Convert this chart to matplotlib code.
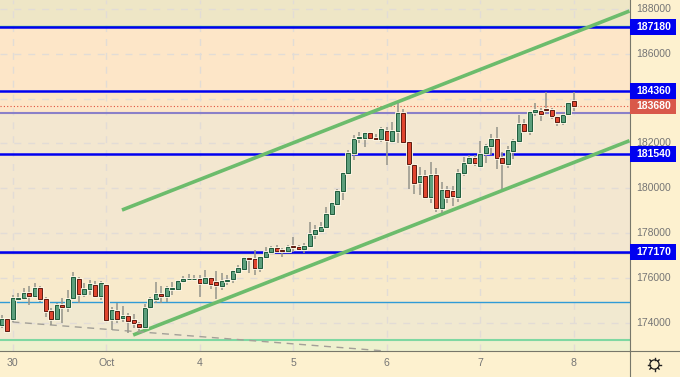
"""
Candlestick chart with support / resistance levels and a rising channel
"""
import matplotlib
matplotlib.use("Agg")
import matplotlib.pyplot as plt
import matplotlib.patheffects as pe
from matplotlib.lines import Line2D
from matplotlib.patches import Circle, Rectangle

opens = [173894, 174147, 174147, 175054, 175084, 175337, 175203, 175545, 175069, 174534,
         174147, 174772, 174682, 175099, 175947, 175278, 175486, 175694, 175188, 175665,
         174147, 174534, 174191, 174310, 174102, 173938, 173819, 174682, 175040, 175292,
         175188, 175486, 175516, 175843, 175932, 175932, 175947, 175784, 175992, 175798,
         175650, 175873, 175932, 176274, 176379, 176870, 176825, 176423, 176914, 177152,
         177331, 177227, 177212, 177420, 177390, 177286, 177420, 177956, 178105, 178253,
         178834, 179295, 179890, 180694, 181557, 182226, 182226, 182450, 182226, 182182,
         182569, 182107, 182569, 183357, 182078, 181021, 180263, 180560, 179593, 180605,
         179132, 179935, 179891, 179623, 180694, 181141, 181349, 181007, 181557, 181900,
         182182, 181349, 181096, 181676, 182108, 182852, 182569, 183388, 183462, 183522,
         183477, 183194, 182971, 183313, 183908]
closes = [174147, 173641, 175084, 175099, 175337, 175203, 175545, 175069, 174534, 174147,
          174772, 174682, 175069, 176037, 175292, 175486, 175709, 175188, 175754, 174117,
          174578, 174177, 174281, 174087, 173968, 173819, 174653, 175040, 175292, 175188,
          175530, 175530, 175843, 175947, 175962, 175962, 175784, 175992, 175739, 175665,
          175873, 175917, 176289, 176423, 176870, 176825, 176453, 176914, 177167, 177331,
          177212, 177212, 177390, 177390, 177286, 177435, 177956, 178134, 178253, 178834,
          179355, 179890, 180664, 181557, 182182, 182271, 182450, 182226, 182182, 182658,
          182152, 182569, 183357, 182078, 181066, 180247, 180560, 179593, 180605, 179132,
          179935, 179593, 179638, 180679, 181141, 181349, 181111, 181543, 181900, 182182,
          181349, 181111, 181691, 182108, 182852, 182569, 183403, 183477, 183328, 183477,
          183209, 182971, 183269, 183789, 183655]
highs = [174340, 174160, 175233, 175337, 175530, 175635, 175754, 175635, 175129, 174638,
         174891, 175084, 175456, 176275, 176022, 175784, 175903, 175873, 175873, 175680,
         174682, 174861, 174742, 174444, 174385, 174043, 174831, 175129, 175799, 175635,
         175635, 175828, 175903, 176081, 176170, 176126, 176126, 176349, 176051, 176304,
         176200, 176126, 176349, 176572, 176944, 176944, 177242, 176944, 177390, 177420,
         177465, 177331, 177465, 177807, 177465, 177539, 178477, 178358, 178506, 179146,
         179399, 179950, 180738, 181706, 182375, 182524, 182524, 182509, 182420, 182717,
         182747, 182970, 183789, 183536, 182122, 181081, 180932, 180813, 181156, 180888,
         180263, 180099, 180099, 180858, 181409, 181483, 181468, 182123, 181959, 182405,
         182718, 181632, 181885, 182182, 183269, 183090, 183447, 183789, 183566, 184310,
         183566, 183224, 183373, 183819, 184280]
lows = [173745, 173630, 174043, 175010, 175010, 174787, 175129, 174935, 174266, 173894,
        174117, 173968, 174489, 175040, 174861, 175129, 175233, 175159, 175010, 174043,
        173670, 173968, 174043, 173552, 173745, 173626, 173745, 174593, 174861, 174861,
        174935, 175233, 175456, 175784, 175903, 175903, 175129, 175724, 175486, 175054,
        175456, 175680, 175754, 176245, 176349, 176230, 176126, 176274, 176914, 177063,
        177137, 176944, 177167, 177167, 177242, 177093, 177390, 177733, 177986, 178209,
        178789, 179250, 179473, 180664, 181259, 182003, 181854, 182182, 182152, 182078,
        181051, 182003, 182003, 182048, 179950, 179741, 179697, 179578, 179325, 178953,
        178909, 179325, 179206, 179400, 180546, 181111, 180992, 180992, 181111, 181483,
        180873, 179950, 180903, 181319, 182078, 182450, 182391, 183239, 183016, 183373,
        183075, 182792, 182822, 183254, 183462]

tick_bars = [2, 19, 36, 53, 70, 87, 104]
tick_labels = ["30", "Oct", "4", "5", "6", "7", "8"]
price_ticks = [174000, 176000, 178000, 180000, 182000, 184000, 186000, 188000]
hidden_ticks = [184000]

blue_levels = [187180, 184360, 181540, 177170]
current_price = 183680
purple_level = 183360
green_level = 187240
grey_level = 177090
thin_blue_level = 174906
pale_green_level = 173224

band_edges = [188402, 187240, 183360, 177170, 174906, 173224, 172733]
band_colors = ["#eee6c6", "#fde6c8", "#f3e7d0", "#f8eacb", "#f1e9d0", "#eef1cf"]

upper_x = [21.87, 114.14]
upper_y = [179027, 187911]
lower_x = [23.9, 114.14]
lower_y = [173447, 182121]
dash_x = [-0.31, 69.7]
dash_y = [174072, 172733]

GREEN = "#5c9f7c"
GREEN_EDGE = "#1e5c3c"
RED = "#e0452f"
RED_EDGE = "#5e1b10"
WICK = "#94948a"
PANEL = "#fdf1cf"
AXIS = "#77776a"
FONT = ["Liberation Sans", "DejaVu Sans"]

fig = plt.figure(figsize=(6.8, 3.77), dpi=100, facecolor=PANEL)
ax = fig.add_axes([0, 26 / 377, 629.5 / 680, 351 / 377])
ax.set_xlim(-0.31, 114.14)
ax.set_ylim(172733, 188402)

for i in range(len(band_colors)):
    ax.axhspan(band_edges[i + 1], band_edges[i], color=band_colors[i], lw=0, zorder=0)

# grid
for p in price_ticks:
    ax.axhline(p, color="#e2dcd6", lw=1, dashes=(5, 5), zorder=1)
for b in tick_bars:
    ax.axvline(b, color="#e2dcd6", lw=1, dashes=(5, 5), zorder=1)

# levels
ax.axhline(green_level, color="#45c98a", lw=1, zorder=2)
ax.axhline(purple_level, color="#8a80c8", lw=1.5, zorder=2)
ax.axhline(grey_level, color="#a09c94", lw=1, zorder=2)
ax.axhline(thin_blue_level, color="#2f9bd6", lw=1, zorder=2)
ax.axhline(pale_green_level, color="#7ed8a2", lw=1.5, zorder=2)
for level in blue_levels:
    ax.axhline(level, color="#0000f0", lw=1.8, zorder=3)
ax.axhline(current_price, color="#e0503c", lw=0.8, dashes=(1, 2), zorder=3)

# channel and old trend line
ax.plot(upper_x, upper_y, color="#6cbc6c", lw=2.6, solid_capstyle="butt", zorder=4)
ax.plot(lower_x, lower_y, color="#6cbc6c", lw=2.6, solid_capstyle="butt", zorder=4)
ax.plot(dash_x, dash_y, color="#a3a098", lw=1, dashes=(5, 4), zorder=4)

# candles
bars = range(len(opens))
ax.vlines(bars, lows, highs, color=WICK, lw=1.1, zorder=5)
halo = [pe.withStroke(linewidth=2, foreground="#fbf5e4")]
for i in bars:
    up = closes[i] >= opens[i]
    bottom = min(opens[i], closes[i])
    height = max(abs(closes[i] - opens[i]), 25)
    ax.bar(i, height, bottom=bottom, width=0.8,
           color=GREEN if up else RED,
           edgecolor=GREEN_EDGE if up else RED_EDGE,
           linewidth=0.7, zorder=6, path_effects=halo)

ax.set_xticks([])
ax.set_yticks([])
for side in ["top", "left"]:
    ax.spines[side].set_visible(False)
ax.spines["right"].set_color(AXIS)
ax.spines["bottom"].set_color(AXIS)

# right price scale
trans = ax.get_yaxis_transform()
label_x = 1.0 + 24.5 / 629.5
for p in price_ticks:
    if p not in hidden_ticks:
        ax.text(label_x, p, str(p), transform=trans, ha="center", va="center",
                color="#757575", fontsize=7.5, family=FONT, clip_on=False, zorder=7)


def price_label(price, color, z):
    ax.add_patch(Rectangle((1.0, price - 357), 46.5 / 629.5, 714, transform=trans,
                           fc=color, ec="none", clip_on=False, zorder=z))
    ax.text(label_x, price, str(price), transform=trans, ha="center", va="center",
            color="white", fontsize=7.5, fontweight="bold", family=FONT, clip_on=False,
            zorder=z + 0.5)


price_label(current_price, "#d9584a", 8)
for level in blue_levels:
    price_label(level, "#0000f0", 9)

# time labels
for b, lab in zip(tick_bars, tick_labels):
    ax.annotate(lab, xy=(b, 0), xycoords=ax.get_xaxis_transform(), xytext=(0, -8.6),
                textcoords="offset points", ha="center", va="center",
                color="#757575", fontsize=7.6, family=FONT, annotation_clip=False)

# axis lines carried through the corner, settings gear
fig.add_artist(Line2D([629.5 / 680, 629.5 / 680], [0, 26 / 377], color=AXIS, lw=0.8))
fig.add_artist(Line2D([629.5 / 680, 1], [26 / 377, 26 / 377], color=AXIS, lw=0.8))
fig.add_artist(Circle((654.5, 12.5), 4.6, transform=None, fc="none", ec="#222222", lw=0.9))
gear = [(0, 6.5), (0, -6.5), (6.5, 0), (-6.5, 0), (4.6, 4.6), (-4.6, 4.6), (4.6, -4.6), (-4.6, -4.6)]
for dx, dy in gear:
    fig.add_artist(Line2D([654.5 + dx * 0.72, 654.5 + dx], [12.5 + dy * 0.72, 12.5 + dy],
                          transform=None, color="#222222", lw=1))

fig.savefig("out.png", dpi=100, facecolor=fig.get_facecolor())
